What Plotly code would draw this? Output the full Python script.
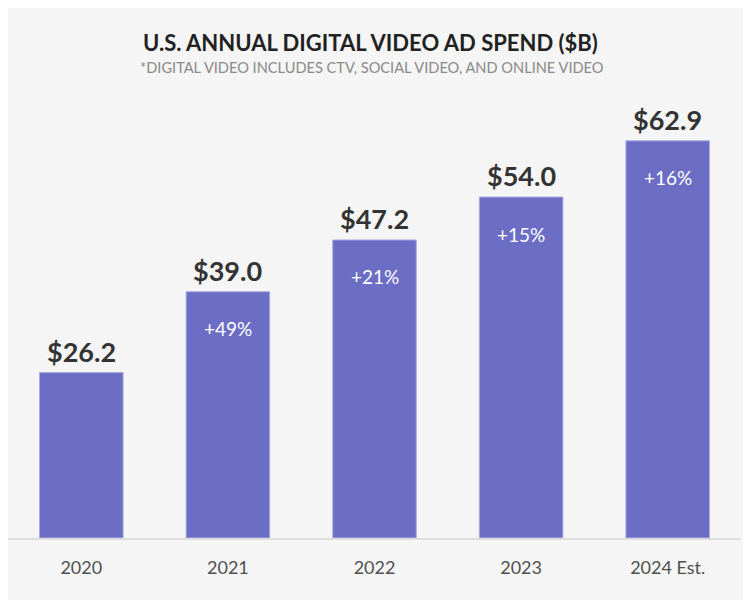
import plotly.graph_objects as go

categories = ["2020", "2021", "2022", "2023", "2024 Est."]
spend = [26.2, 39.0, 47.2, 54.0, 62.9]
value_labels = ["$26.2", "$39.0", "$47.2", "$54.0", "$62.9"]
growth_labels = ["", "+49%", "+21%", "+15%", "+16%"]
title_text = "U.S. ANNUAL DIGITAL VIDEO AD SPEND ($B)"
subtitle_text = "*DIGITAL VIDEO INCLUDES CTV, SOCIAL VIDEO, AND ONLINE VIDEO"

BG = "#f4f5f4"
BAR = "#6b6ec4"
FONT = "Lato"

fig = go.Figure()
fig.add_trace(go.Bar(
    x=categories, y=spend,
    marker=dict(color=BAR, line=dict(color="#a9abe0", width=1)),
    hoverinfo="skip",
))

# category axes place annotations by serial index (numeric-looking strings would be read as numbers)
for i, (v, lab, g) in enumerate(zip(spend, value_labels, growth_labels)):
    fig.add_annotation(x=i, y=v, xref="x", yref="y", text=f"<b>{lab}</b>", showarrow=False,
                       yanchor="bottom", yshift=3,
                       font=dict(family=FONT, size=27, color="#333333"))
    if g:
        fig.add_annotation(x=i, y=v, xref="x", yref="y", text=g, showarrow=False,
                           yanchor="middle", yshift=-37,
                           font=dict(family=FONT, size=19, color="#ffffff"))

fig.add_annotation(xref="paper", yref="paper", x=0.5, y=1, xshift=-4, yshift=66,
                   yanchor="middle", showarrow=False, text=f"<b>{title_text}</b>",
                   font=dict(family=FONT, size=22, color="#222222"))
fig.add_annotation(xref="paper", yref="paper", x=0.5, y=1, xshift=-3, yshift=41,
                   yanchor="middle", showarrow=False, text=subtitle_text,
                   font=dict(family=FONT, size=14.6, color="#8a8a8a"))

fig.update_layout(
    width=751, height=600,
    paper_bgcolor=BG, plot_bgcolor=BG,
    margin=dict(l=0, r=18, t=100, b=70),
    bargap=0.43,
    showlegend=False,
    font=dict(family=FONT),
)
fig.update_xaxes(type="category", range=[-0.5, len(categories) - 0.5],
                 showline=True, linecolor="#dddddd", linewidth=2,
                 tickfont=dict(family=FONT, size=18, color="#505050"),
                 ticks="outside", ticklen=12, tickcolor=BG)
fig.update_yaxes(range=[0, 68.1], visible=False, showgrid=False, zeroline=False)

fig.write_html("out.html")
